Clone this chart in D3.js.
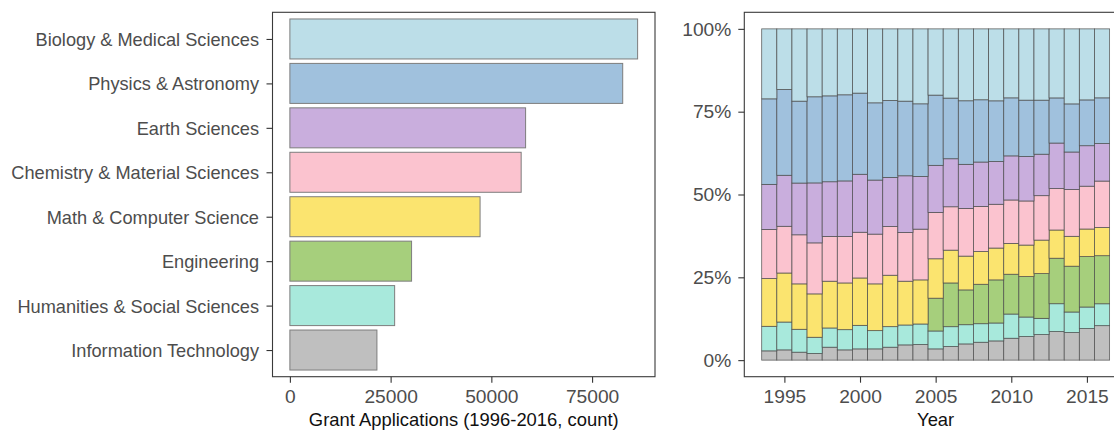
<!DOCTYPE html>
<html>
<head>
<meta charset="utf-8">
<script src="https://cdn.jsdelivr.net/npm/d3@7"></script>
<style>
  html, body { margin: 0; padding: 0; background: #fff; }
  svg { display: block; font-family: "Liberation Sans", Arial, Helvetica, sans-serif; }
</style>
</head>
<body>
<svg id="chart" width="1114" height="430"></svg>
<script>
// Research fields, listed from the largest total to the smallest
const categories = [
  "Biology & Medical Sciences",
  "Physics & Astronomy",
  "Earth Sciences",
  "Chemistry & Material Sciences",
  "Math & Computer Science",
  "Engineering",
  "Humanities & Social Sciences",
  "Information Technology"
];

// Total grant applications per field, 1996-2016
const totals = [86300, 82600, 58500, 57400, 47200, 30200, 26000, 21600];

const fieldColours = [
  "#bcdee8", "#a0c1dd", "#c9aedd", "#fbc3cf",
  "#fbe46f", "#a6cf7c", "#a8e9dc", "#bfbfbf"
];

const years = [1994, 1995, 1996, 1997, 1998, 1999, 2000, 2001, 2002, 2003, 2004, 2005,
               2006, 2007, 2008, 2009, 2010, 2011, 2012, 2013, 2014, 2015, 2016];

// Yearly share of applications per field (percent)
const shareBio   = [21.1, 18.3, 21.8, 20.5, 20.2, 19.9, 19.4, 22.3, 21.6, 21.8, 22.6, 20.0, 20.9, 21.7, 21.4, 21.7, 20.8, 21.5, 21.5, 20.8, 22.6, 21.4, 20.8];
const sharePhys  = [25.8, 25.9, 24.7, 26.0, 25.9, 26.0, 24.5, 23.3, 23.2, 22.5, 21.9, 21.2, 18.3, 19.2, 18.8, 18.3, 17.5, 17.0, 16.3, 13.6, 14.5, 13.8, 13.8];
const shareEarth = [13.6, 15.4, 15.6, 18.1, 16.5, 16.8, 17.5, 16.3, 14.8, 17.1, 15.9, 14.2, 14.5, 13.3, 13.4, 12.9, 13.3, 13.4, 12.5, 13.7, 11.3, 12.2, 11.3];
const shareChem  = [14.8, 14.1, 14.8, 15.4, 13.5, 14.0, 13.8, 15.0, 14.7, 14.7, 15.3, 14.0, 13.1, 14.4, 13.6, 13.2, 13.1, 13.3, 13.4, 12.5, 14.1, 12.9, 14.0];
const shareMath  = [14.4, 14.8, 13.7, 13.1, 14.1, 14.1, 14.3, 14.1, 15.5, 13.2, 13.3, 11.9,  9.9, 10.2,  9.9,  9.6,  9.3,  9.5, 10.1,  8.5,  9.0,  8.3,  8.5];
const shareEng   = [ 0.0,  0.0,  0.0,  0.0,  0.0,  0.0,  0.0,  0.0,  0.0,  0.0,  0.0,  9.9, 13.2, 10.5, 11.9, 13.0, 12.0, 12.2, 13.5, 13.7, 13.8, 15.2, 14.5];
const shareHum   = [ 7.4,  8.4,  6.9,  4.9,  5.8,  6.1,  7.1,  5.5,  6.2,  6.0,  6.2,  5.4,  6.0,  5.8,  5.6,  5.4,  7.3,  5.9,  4.9,  8.4,  6.2,  6.5,  6.6];
const shareIT    = [ 2.8,  3.1,  2.4,  2.0,  3.9,  3.1,  3.4,  3.4,  3.9,  4.6,  4.7,  3.4,  4.1,  4.9,  5.4,  5.8,  6.6,  7.1,  7.7,  8.6,  8.3,  9.5, 10.4];

const shareTicks = [0, 0.25, 0.5, 0.75, 1];
const countTicks = [0, 25000, 50000, 75000];
const yearTicks = [1995, 2000, 2005, 2010, 2015];

const shares = [shareBio, sharePhys, shareEarth, shareChem, shareMath, shareEng, shareHum, shareIT];
const colourOf = d3.scaleOrdinal().domain(categories).range(fieldColours);

const svg = d3.select("#chart");
const LABEL_FONT = 18.2;   // category names
const NUM_FONT = 19.2;     // numeric tick labels
const TITLE_FONT = 18.4;
const TEXT = "#4d4d4d";

// Shared panel geometry
const panelTop = 12.3, panelBottom = 376.7;

function styleAxis(g, size) {
  g.select(".domain").remove();
  g.selectAll(".tick line").attr("stroke", "#333").attr("stroke-width", 1.1);
  g.selectAll(".tick text").attr("fill", TEXT).style("font-size", size + "px")
    .style("font-family", "'Liberation Sans', Arial, sans-serif");
}

// ---------- Left panel: totals per field ----------
const L = { left: 272.5, right: 655 };
const maxTotal = d3.max(totals);
const xL = d3.scaleLinear()
  .domain([-0.05 * maxTotal, 1.05 * maxTotal])
  .range([L.left, L.right]);
const yL = d3.scalePoint()
  .domain(categories)
  .range([panelTop, panelBottom])
  .padding(0.6);
const barH = yL.step() * 0.9;

const left = svg.append("g");
left.selectAll("rect.bar")
  .data(categories.map((c, i) => ({ c, v: totals[i] })))
  .join("rect")
  .attr("class", "bar")
  .attr("x", xL(0))
  .attr("y", d => yL(d.c) - barH / 2)
  .attr("width", d => xL(d.v) - xL(0))
  .attr("height", barH)
  .attr("fill", d => colourOf(d.c))
  .attr("stroke", "#7d7d7d")
  .attr("stroke-width", 1);

left.append("rect")
  .attr("x", L.left).attr("y", panelTop)
  .attr("width", L.right - L.left).attr("height", panelBottom - panelTop)
  .attr("fill", "none").attr("stroke", "#3a3a3a").attr("stroke-width", 1.1);

left.append("g")
  .attr("transform", `translate(0,${panelBottom})`)
  .call(d3.axisBottom(xL).tickValues(countTicks).tickFormat(d3.format("d")).tickSize(6).tickPadding(7))
  .call(styleAxis, NUM_FONT);

left.append("g")
  .attr("transform", `translate(${L.left},0)`)
  .call(d3.axisLeft(yL).tickSize(6).tickPadding(7.5))
  .call(styleAxis, LABEL_FONT)
  .selectAll(".tick text").attr("dy", "0.36em");

left.append("text")
  .attr("x", (L.left + L.right) / 2).attr("y", 426)
  .attr("text-anchor", "middle")
  .attr("fill", "#111").style("font-size", TITLE_FONT + "px")
  .text("Grant Applications (1996-2016, count)");

// ---------- Right panel: yearly composition ----------
const R = { left: 744.3, right: 1127 };
const yearExtent = [d3.min(years) - 0.5, d3.max(years) + 0.5];
const span = yearExtent[1] - yearExtent[0];
const xR = d3.scaleLinear()
  .domain([yearExtent[0] - 0.05 * span, yearExtent[1] + 0.05 * span])
  .range([R.left, R.right]);
const yR = d3.scaleLinear()
  .domain([-0.05, 1.05])
  .range([panelBottom, panelTop]);

const rows = years.map((yr, i) => {
  const row = { year: yr };
  categories.forEach((c, k) => { row[c] = shares[k][i]; });
  return row;
});

// Stack from the smallest field at the bottom to the largest at the top
const stackKeys = categories.slice().reverse();
const stacked = d3.stack().keys(stackKeys).offset(d3.stackOffsetExpand)(rows);

const right = svg.append("g");

const layers = right.append("g").selectAll("g.layer")
  .data(stacked)
  .join("g")
  .attr("class", "layer")
  .attr("fill", d => colourOf(d.key));

layers.selectAll("rect")
  .data(d => d.filter(p => p[1] - p[0] > 0))
  .join("rect")
  .attr("x", p => xR(p.data.year - 0.5))
  .attr("width", p => xR(p.data.year + 0.5) - xR(p.data.year - 0.5))
  .attr("y", p => yR(p[1]))
  .attr("height", p => yR(p[0]) - yR(p[1]))
  .attr("stroke", "#4a4a4a")
  .attr("stroke-opacity", 0.85)
  .attr("stroke-width", 0.8);

right.append("rect")
  .attr("x", R.left).attr("y", panelTop)
  .attr("width", R.right - R.left).attr("height", panelBottom - panelTop)
  .attr("fill", "none").attr("stroke", "#3a3a3a").attr("stroke-width", 1.1);

right.append("g")
  .attr("transform", `translate(0,${panelBottom})`)
  .call(d3.axisBottom(xR).tickValues(yearTicks).tickFormat(d3.format("d")).tickSize(6).tickPadding(7))
  .call(styleAxis, NUM_FONT);

right.append("g")
  .attr("transform", `translate(${R.left},0)`)
  .call(d3.axisLeft(yR).tickValues(shareTicks).tickFormat(d3.format(".0%")).tickSize(6).tickPadding(7))
  .call(styleAxis, NUM_FONT);

right.append("text")
  .attr("x", (R.left + R.right) / 2).attr("y", 426)
  .attr("text-anchor", "middle")
  .attr("fill", "#111").style("font-size", TITLE_FONT + "px")
  .text("Year");
</script>
</body>
</html>
